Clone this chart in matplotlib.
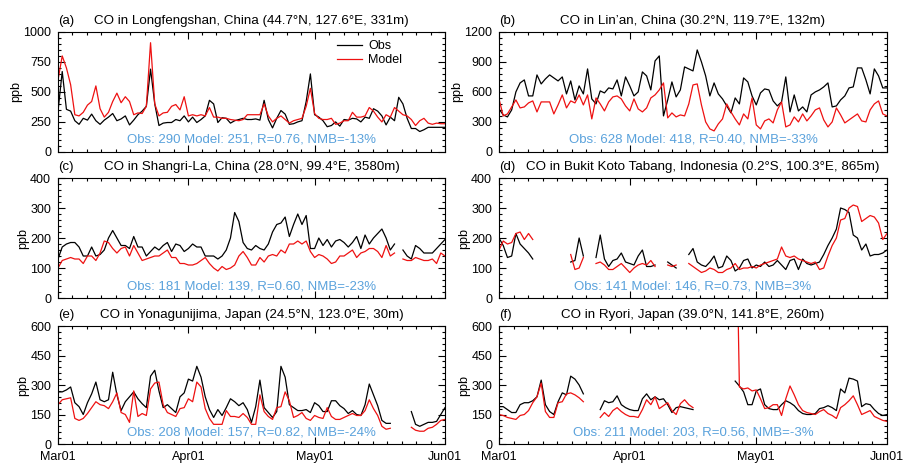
# CO time series at six Asian sites, obs vs model, Mar01 - Jun01
import numpy as np
import matplotlib
matplotlib.use('Agg')
import matplotlib.pyplot as plt
from matplotlib.ticker import MultipleLocator, FixedLocator

plt.rcParams['font.family'] = ['Liberation Sans', 'DejaVu Sans']
nan = np.nan

days = np.arange(93)  # day 0 = Mar01, day 92 = Jun01
month_ticks = [0, 31, 61, 92]
month_labels = ['Mar01', 'Apr01', 'May01', 'Jun01']

# (a) Longfengshan
obs_a = [339, 670, 355, 340, 260, 230, 280, 265, 315, 260,
         230, 265, 290, 320, 260, 275, 300, 225, 265, 310,
         340, 380, 690, 400, 220, 240, 245, 245, 270, 260,
         300, 250, 290, 245, 270, 300, 430, 400, 245, 285,
         280, 240, 260, 270, 280, 270, 270, 275, 265, 430,
         270, 200, 280, 345, 315, 230, 235, 250, 260, 420,
         650, 310, 290, 260, 210, 220, 250, 215, 270, 265,
         280, 275, 250, 290, 280, 360, 340, 300, 225, 290,
         260, 455, 400, 280, 195, 195, 170, 185, 205, 205,
         205, 205, 205]
mod_a = [600, 800, 700, 560, 310, 300, 330, 390, 420, 550,
         360, 290, 330, 420, 490, 410, 460, 420, 310, 325,
         320, 380, 910, 400, 300, 325, 330, 380, 395, 350,
         460, 300, 310, 300, 310, 300, 370, 290, 290, 280,
         280, 270, 265, 260, 270, 310, 310, 310, 310, 400,
         300, 250, 280, 300, 270, 240, 260, 270, 280, 380,
         530, 320, 280, 270, 270, 280, 230, 240, 260, 260,
         330, 290, 290, 300, 370, 340, 290, 250, 310, 290,
         370, 340, 310, 300, 270, 220, 260, 280, 240, 230,
         240, 235, 235]

# (b) Lin'an
obs_b = [430, 370, 350, 420, 600, 690, 720, 560, 560, 770,
         680, 730, 770, 740, 710, 750, 580, 710, 520, 660,
         580, 830, 530, 480, 610, 590, 640, 630, 720, 560,
         750, 660, 560, 600, 800, 760, 620, 910, 960, 360,
         520, 700, 550, 620, 850, 830, 810, 1020, 900, 760,
         560, 690, 580, 530, 460, 390, 540, 480, 740, 700,
         560, 470, 590, 630, 620, 510, 460, 500, 750, 400,
         570, 410, 450, 400, 570, 600, 620, 650, 690, 450,
         460, 520, 560, 640, 650, 840, 840, 720, 580, 830,
         760, 640, 640]
mod_b = [530, 360, 380, 450, 520, 440, 450, 490, 510, 400,
         500, 500, 500, 380, 470, 570, 440, 510, 490, 570,
         470, 570, 330, 540, 480, 410, 500, 550, 560, 530,
         460, 410, 530, 430, 400, 440, 540, 570, 620, 690,
         340, 390, 350, 370, 360, 480, 670, 680, 470, 300,
         230, 210, 280, 330, 480, 400, 330, 270, 380, 330,
         540, 270, 230, 310, 330, 290, 420, 500, 250, 270,
         350, 300, 380, 310, 360, 420, 440, 320, 250, 300,
         440, 370, 290, 320, 350, 380, 310, 300, 420, 480,
         510, 380, 360]

# (c) Shangri-La
obs_c = [130, 170, 180, 185, 185, 170, 140, 140, 170, 140,
         145, 160, 200, 225, 200, 175, 175, 165, 205, 170,
         170, 140, 155, 170, 160, 175, 185, 155, 180, 175,
         155, 165, 180, 170, 170, 140, 140, 140, 130, 140,
         160, 200, 285, 255, 185, 165, 160, 175, 165, 160,
         180, 220, 245, 250, 270, 205, 245, 280, 245, 275,
         165, 165, 200, 175, 195, 170, 190, 195, 185, 170,
         185, 205, 165, 210, 180, 200, 215, 230, 200, 160,
         180, nan, 160, 140, 130, 175, 165, 150, 150, 150,
         165, 180, 195]
mod_c = [100, 125, 130, 135, 130, 130, 115, 140, 140, 125,
         150, 190, 185, 165, 150, 165, 170, 140, 175, 150,
         125, 130, 135, 140, 140, 150, 160, 135, 135, 115,
         115, 110, 110, 115, 125, 135, 115, 100, 90, 105,
         95, 100, 110, 140, 155, 135, 110, 110, 135, 120,
         140, 145, 140, 160, 150, 180, 180, 190, 180, 190,
         155, 135, 145, 140, 130, 115, 120, 140, 140, 150,
         160, 135, 150, 155, 165, 165, 155, 135, 175, 140,
         150, nan, 130, 125, 125, 135, 130, 125, 125, 130,
         115, 150, 140]

# (d) Bukit Koto Tabang
obs_d = [200, 175, 135, 140, 215, 180, 165, 150, 130, nan,
         nan, nan, nan, nan, nan, nan, nan, 120, 125, 200,
         140, nan, nan, 135, 210, 130, 105, 125, 130, 150,
         120, 115, 110, 140, 160, 105, 105, 110, nan, nan,
         120, 110, 100, nan, nan, 145, 165, 120, 110, 105,
         120, 140, 100, 105, 140, 125, 90, 100, 125, 130,
         100, 110, 105, 120, 105, 110, 125, 110, 95, 125,
         130, 95, 130, 115, 110, 115, 120, 145, 175, 200,
         230, 300, 295, 285, 210, 200, 160, 180, 140, 145,
         145, 150, 160]
mod_d = [160, 190, 180, 185, 215, 220, 195, 215, 195, nan,
         nan, nan, nan, nan, nan, nan, nan, 145, 95, 100,
         135, nan, nan, 115, 120, 110, 95, 95, 105, 115,
         100, 85, 100, 110, 115, 110, 125, 105, nan, nan,
         110, 105, 110, nan, nan, 115, 105, 95, 85, 90,
         100, 95, 85, 85, 95, 100, 115, 95, 100, 100,
         105, 100, 110, 115, 120, 125, 130, 170, 140, 135,
         140, 130, 125, 120, 115, 120, 95, 100, 140, 175,
         200, 260, 265, 300, 310, 305, 255, 265, 275, 270,
         250, 195, 215]

# (e) Yonagunijima
obs_e = [265, 265, 275, 290, 210, 190, 150, 210, 255, 315,
         225, 215, 225, 365, 250, 170, 215, 240, 265, 230,
         205, 185, 345, 375, 270, 185, 200, 180, 160, 240,
         260, 330, 320, 395, 340, 240, 175, 135, 175, 145,
         185, 230, 215, 195, 210, 175, 110, 190, 325, 185,
         160, 135, 165, 395, 340, 200, 185, 170, 170, 175,
         160, 210, 195, 165, 165, 220, 220, 195, 180, 155,
         170, 150, 145, 200, 305, 250, 195, 120, 105, 105,
         nan, nan, nan, nan, 165, 100, 90, 100, 110, 110,
         115, 150, 185]
mod_e = [200, 225, 230, 235, 130, 120, 130, 155, 185, 215,
         200, 195, 180, 215, 260, 160, 150, 110, 270, 140,
         155, 145, 280, 310, 315, 200, 160, 150, 140, 180,
         185, 230, 215, 315, 290, 180, 130, 100, 100, 100,
         170, 140, 140, 135, 155, 135, 100, 100, 250, 165,
         140, 125, 185, 190, 265, 220, 135, 145, 160, 130,
         120, 145, 135, 130, 185, 140, 125, 125, 135, 145,
         155, 145, 145, 170, 225, 180, 145, 90, 75, 80,
         nan, nan, nan, nan, 85, 70, 65, 65, 80, 85,
         100, 120, 125]

# (f) Ryori
obs_f = [190, 190, 175, 160, 160, 200, 210, 210, 220, 240,
         325, 200, 165, 150, 215, 260, 250, 345, 330, 300,
         255, nan, nan, nan, 175, 220, 210, 215, 245, 200,
         185, 175, 170, 170, 230, 255, 225, 240, 225, 230,
         200, 160, 185, 190, 185, 180, 175, nan, nan, nan,
         nan, nan, nan, nan, nan, nan, 320, 295, 265, 200,
         200, 270, 280, 200, 180, 175, 175, 200, 220, 210,
         195, 170, 155, 150, 150, 155, 180, 185, 195, 185,
         170, 280, 260, 335, 330, 320, 190, 205, 200, 175,
         155, 145, 150]
mod_f = [150, 145, 135, 130, 125, 145, 150, 170, 210, 240,
         310, 165, 135, 135, 210, 215, 255, 260, 250, 235,
         215, nan, nan, nan, 135, 160, 140, 170, 185, 165,
         150, 140, 140, 135, 175, 225, 200, 240, 180, 195,
         210, 170, 150, 205, 225, 200, 185, nan, nan, nan,
         nan, nan, nan, nan, nan, nan, 1500, 290, 280, 285,
         270, 275, 230, 180, 185, 200, 200, 145, 230, 295,
         250, 200, 170, 160, 155, 150, 165, 175, 155, 145,
         130, 185, 200, 220, 245, 200, 150, 160, 170, 140,
         130, 120, 115]

titles = ['CO in Longfengshan, China (44.7°N, 127.6°E, 331m)',
          'CO in Lin\u2019an, China (30.2°N, 119.7°E, 132m)',
          'CO in Shangri-La, China (28.0°N, 99.4°E, 3580m)',
          'CO in Bukit Koto Tabang, Indonesia (0.2°S, 100.3°E, 865m)',
          'CO in Yonagunijima, Japan (24.5°N, 123.0°E, 30m)',
          'CO in Ryori, Japan (39.0°N, 141.8°E, 260m)']
stats = ['Obs: 290 Model: 251, R=0.76, NMB=-13%',
         'Obs: 628 Model: 418, R=0.40, NMB=-33%',
         'Obs: 181 Model: 139, R=0.60, NMB=-23%',
         'Obs: 141 Model: 146, R=0.73, NMB=3%',
         'Obs: 208 Model: 157, R=0.82, NMB=-24%',
         'Obs: 211 Model: 203, R=0.56, NMB=-3%']
letters = ['(a)', '(b)', '(c)', '(d)', '(e)', '(f)']
obs_all = [obs_a, obs_b, obs_c, obs_d, obs_e, obs_f]
mod_all = [mod_a, mod_b, mod_c, mod_d, mod_e, mod_f]
ymax = [1000, 1200, 400, 400, 600, 600]
ystep = [250, 300, 100, 100, 150, 150]

fig = plt.figure(figsize=(9.05, 4.66), dpi=100)

col_left = [0.0641, 0.5514]
col_width = [0.4276, 0.4287]
row_bottom = [0.674, 0.3605, 0.0472]
row_height = [0.2575, 0.2575, 0.2532]

# minor x ticks: 9 subdivisions per month
minor_x = []
for a, b in zip(month_ticks[:-1], month_ticks[1:]):
    minor_x.extend(np.linspace(a, b, 10)[1:-1])

blue = '#5aa2dc'
for i in range(6):
    r, c = i // 2, i % 2
    ax = fig.add_axes([col_left[c], row_bottom[r], col_width[c], row_height[r]])
    ax.plot(days, obs_all[i], color='black', lw=0.9, label='Obs')
    ax.plot(days, mod_all[i], color='#ee1111', lw=0.9, label='Model')
    ax.set_xlim(0, 92)
    ax.set_ylim(0, ymax[i])
    ax.yaxis.set_major_locator(MultipleLocator(ystep[i]))
    ax.yaxis.set_minor_locator(MultipleLocator(ystep[i] / 5))
    ax.xaxis.set_major_locator(FixedLocator(month_ticks))
    ax.xaxis.set_minor_locator(FixedLocator(minor_x))
    ax.set_xticklabels(month_labels)
    ax.tick_params(which='both', direction='in', top=True, right=True,
                   labelsize=9, width=0.8)
    ax.tick_params(which='major', length=5, pad=5)
    ax.tick_params(which='minor', length=2.5)
    if r < 2:
        ax.tick_params(labelbottom=False)
    for s in ax.spines.values():
        s.set_linewidth(0.8)
    ax.set_ylabel('ppb', fontsize=9, labelpad=1)
    ax.text(0.0, 1.04, letters[i], transform=ax.transAxes, fontsize=9.5,
            ha='left', va='bottom')
    xc = 0.525 if i == 3 else 0.5
    ax.text(xc, 1.04, titles[i], transform=ax.transAxes, fontsize=9.6,
            ha='center', va='bottom')
    ax.text(0.5, 0.1, stats[i], transform=ax.transAxes, fontsize=9.5,
            color=blue, ha='center', va='center')
    if i == 0:
        ax.legend(loc='upper left', bbox_to_anchor=(0.715, 0.95), frameon=False,
                  fontsize=9, handlelength=2.0, handletextpad=0.5,
                  labelspacing=0.15, borderpad=0.2, borderaxespad=0)

fig.savefig('out.png', dpi=100)
